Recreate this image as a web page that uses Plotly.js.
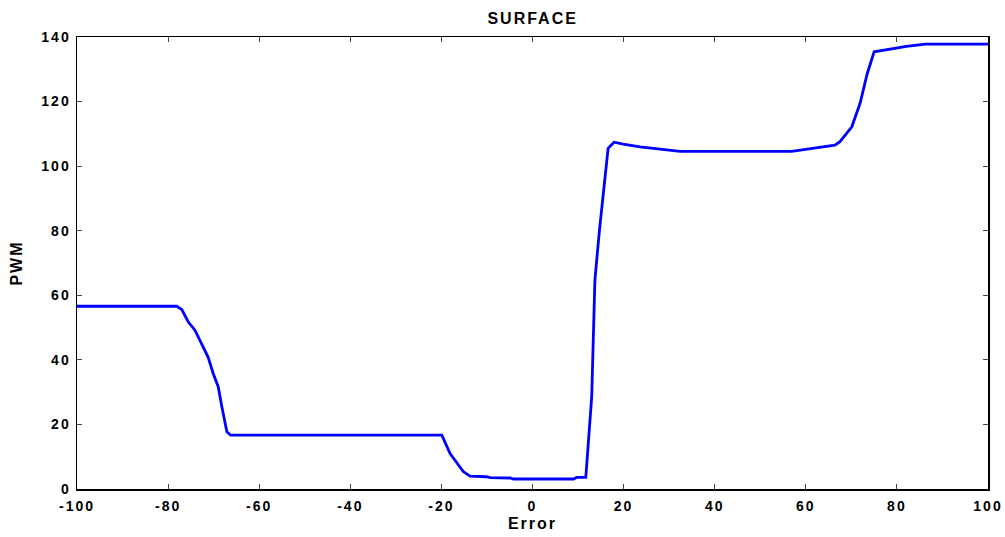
<!DOCTYPE html>
<html>
<head>
<meta charset="utf-8">
<script src="https://cdn.plot.ly/plotly-3.0.1.min.js"></script>
<style>
html,body{margin:0;padding:0;background:#fff;}
#chart{width:1005px;height:537px;}
.main-svg text{letter-spacing:2px;}
</style>
</head>
<body>
<div id="chart"></div>
<script>
var errorValues = [-100, -78.1, -77.0, -75.6, -74.1, -72.6, -71.2, -70.1, -69.0, -68.2, -67.1, -66.3,
  -19.9, -18.1, -16.6, -15.2, -13.7, -10.1, -9.3, -4.9, -4.2, 9.0, 9.7, 11.7,
  13.0, 13.7, 14.7, 15.5, 16.6, 17.9, 19.9, 23.6, 27.3, 30.2, 32.4,
  56.9, 60.2, 62.4, 64.6, 66.4, 67.5, 68.6, 70.1, 71.9, 73.5, 75.0, 76.3, 79.2, 82.1, 86.2, 100];
var pwmValues = [56.6, 56.6, 55.6, 51.8, 49.2, 44.6, 40.8, 35.8, 31.7, 25.5, 17.7, 16.7,
  16.7, 11.0, 8.0, 5.4, 4.0, 3.8, 3.5, 3.4, 3.1, 3.1, 3.6, 3.6,
  28.6, 64.7, 80.2, 90.5, 105.5, 107.4, 106.8, 106.0, 105.5, 105.0, 104.6,
  104.6, 105.3, 105.7, 106.1, 106.5, 107.6, 109.6, 112.2, 119.4, 128.7, 135.4, 135.7, 136.5, 137.1, 137.8, 137.8];
var xTicks = [-100, -80, -60, -40, -20, 0, 20, 40, 60, 80, 100];
var yTicks = [0, 20, 40, 60, 80, 100, 120, 140];
var titleText = 'SURFACE';
var xLabel = 'Error';
var yLabel = 'PWM';

var font = {family: 'Liberation Sans, Arial, sans-serif', size: 14, color: '#000', weight: 'bold'};
var bigFont = {family: font.family, size: 16, color: '#000', weight: 'bold'};
var axisCommon = {
  showgrid: false, zeroline: false, showline: true, linecolor: '#000', linewidth: 1.5,
  mirror: 'ticks', ticks: 'inside', ticklen: 5, tickwidth: 1, tickcolor: '#444',
  tickfont: font
};
var trace = {x: errorValues, y: pwmValues, type: 'scatter', mode: 'lines',
  line: {color: '#0000ff', width: 2.8}, hoverinfo: 'skip'};
var layout = {
  width: 1005, height: 537,
  margin: {l: 77, r: 17, t: 37, b: 48},
  paper_bgcolor: '#fff', plot_bgcolor: '#fff',
  showlegend: false,
  title: {text: titleText, font: bigFont, x: 0.53, xanchor: 'center', y: 0.965, yanchor: 'middle'},
  xaxis: Object.assign({}, axisCommon, {range: [-100, 100], tickvals: xTicks, ticktext: xTicks.map(String),
    ticklabelstandoff: 4,
    title: {text: xLabel, font: bigFont, standoff: 4}}),
  yaxis: Object.assign({}, axisCommon, {range: [0, 140], tickvals: yTicks, ticktext: yTicks.map(String),
    ticklabelstandoff: 2,
    title: {text: yLabel, font: bigFont, standoff: 20}})
};
Plotly.newPlot('chart', [trace], layout, {staticPlot: true, displayModeBar: false});
</script>
</body>
</html>
